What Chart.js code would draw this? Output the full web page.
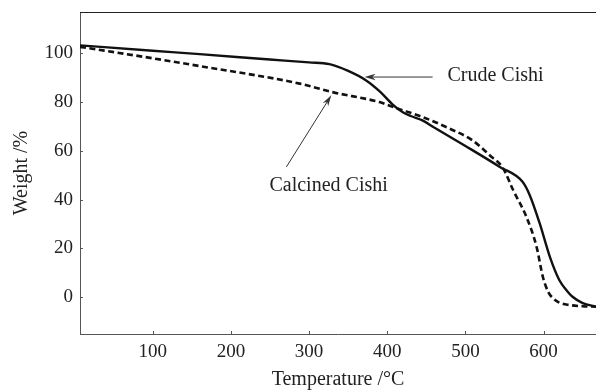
<!DOCTYPE html>
<html>
<head>
<meta charset="utf-8">
<script src="https://cdn.jsdelivr.net/npm/chart.js@4.4.1/dist/chart.umd.min.js"></script>
<style>
    html, body { margin: 0; padding: 0; background: #fff; }
    #wrap { width: 596px; height: 391px; }
</style>
</head>
<body>
<div id="wrap"><canvas id="tga-chart" width="596" height="391"></canvas></div>
<script>
// temperature (°C) / weight (%)
let crudeTemp = [7, 100, 160, 250, 300, 326, 350, 373, 390, 407, 420, 430, 445, 460, 500, 544, 573, 582, 595, 608, 620, 630, 637, 650, 667];
let crudeWeight = [103.3, 101.1, 99.7, 97.5, 96.3, 95.6, 92.8, 88.9, 84.5, 79.0, 75.8, 74.3, 72.5, 69.6, 62.0, 53.4, 47.3, 42.0, 30.2, 16.5, 7.0, 2.5, 0.1, -2.5, -4.0];

let calcinedTemp = [7, 100, 160, 288, 330, 390, 411, 445, 480, 509, 531, 548, 561, 578, 591, 599, 606, 612, 620, 633, 650, 667];
let calcinedWeight = [102.7, 98.0, 94.8, 87.6, 84.1, 80.0, 77.6, 73.9, 69.1, 64.3, 58.2, 52.9, 43.9, 32.9, 20.6, 8.3, 2.0, -0.5, -2.3, -3.3, -3.8, -4.0];

let xTicks = [100, 200, 300, 400, 500, 600];
let yTicks = [0, 20, 40, 60, 80, 100];

let serif = '"Liberation Serif", "Times New Roman", serif';

function toPoints($xs, $ys) {
    return $xs.map(function($x, $i) {
        return {x: $x, y: $ys[$i]};
    });
}

function drawArrow(ctx, x1, y1, x2, y2) {
    let angle = Math.atan2(y2 - y1, x2 - x1);
    let len = 11, half = 3.2;
    ctx.beginPath();
    ctx.moveTo(x1, y1);
    ctx.lineTo(x2 - Math.cos(angle) * len * 0.7, y2 - Math.sin(angle) * len * 0.7);
    ctx.stroke();
    ctx.beginPath();
    ctx.moveTo(x2, y2);
    ctx.lineTo(x2 - Math.cos(angle) * len - Math.sin(angle) * half, y2 - Math.sin(angle) * len + Math.cos(angle) * half);
    ctx.lineTo(x2 - Math.cos(angle) * len * 0.7, y2 - Math.sin(angle) * len * 0.7);
    ctx.lineTo(x2 - Math.cos(angle) * len + Math.sin(angle) * half, y2 - Math.sin(angle) * len - Math.cos(angle) * half);
    ctx.closePath();
    ctx.fill();
}

// inward ticks, top frame line and the two labelled arrows
let decorations = {
    id: 'decorations',
    afterDatasetsDraw: function(chart) {
        let ctx = chart.ctx;
        let area = chart.chartArea;
        let x = chart.scales.x;
        let y = chart.scales.y;

        ctx.save();
        ctx.strokeStyle = '#555';
        ctx.lineWidth = 1;
        xTicks.forEach(function($v) {
            let px = Math.round(x.getPixelForValue($v)) + 0.5;
            ctx.beginPath();
            ctx.moveTo(px, area.bottom);
            ctx.lineTo(px, area.bottom - 3);
            ctx.stroke();
        });
        yTicks.forEach(function($v) {
            let py = Math.round(y.getPixelForValue($v)) + 0.5;
            ctx.beginPath();
            ctx.moveTo(area.left, py);
            ctx.lineTo(area.left + 3, py);
            ctx.stroke();
        });

        ctx.strokeStyle = '#222';
        ctx.beginPath();
        ctx.moveTo(area.left, area.top + 0.5);
        ctx.lineTo(area.right, area.top + 0.5);
        ctx.stroke();

        ctx.strokeStyle = '#333';
        ctx.fillStyle = '#333';
        ctx.lineWidth = 1;
        drawArrow(ctx, x.getPixelForValue(458), y.getPixelForValue(90.3), x.getPixelForValue(371), y.getPixelForValue(90.3));
        drawArrow(ctx, x.getPixelForValue(271), y.getPixelForValue(53.4), x.getPixelForValue(328.4), y.getPixelForValue(82.8));

        ctx.fillStyle = '#222';
        ctx.font = '20px ' + serif;
        ctx.textBaseline = 'middle';
        ctx.textAlign = 'left';
        ctx.fillText('Crude Cishi', x.getPixelForValue(477), y.getPixelForValue(90.8));
        ctx.textAlign = 'center';
        ctx.fillText('Calcined Cishi', x.getPixelForValue(325), y.getPixelForValue(45.6));
        ctx.restore();
    }
};

function getChartConfig() {
    return {
        type: 'line',
        data: {
            datasets: [
                {
                    label: 'Crude Cishi',
                    data: toPoints(crudeTemp, crudeWeight),
                    borderColor: '#111',
                    borderWidth: 2.4,
                    pointRadius: 0,
                    cubicInterpolationMode: 'monotone'
                },
                {
                    label: 'Calcined Cishi',
                    data: toPoints(calcinedTemp, calcinedWeight),
                    borderColor: '#111',
                    borderWidth: 2.6,
                    borderDash: [6, 3.5],
                    pointRadius: 0,
                    cubicInterpolationMode: 'monotone'
                }
            ]
        },
        options: {
            responsive: false,
            animation: false,
            layout: {
                padding: {left: 0, top: 12, right: 0, bottom: 0}
            },
            scales: {
                x: {
                    type: 'linear',
                    min: 7,
                    max: 667,
                    afterBuildTicks: function(scale) {
                        scale.ticks = xTicks.map(function($v) { return {value: $v}; });
                    },
                    afterFit: function(scale) {
                        scale.height = 57;
                        scale.paddingLeft = 0;
                        scale.paddingRight = 0;
                    },
                    grid: {display: false, drawTicks: false},
                    border: {color: '#555', width: 1},
                    ticks: {
                        color: '#222',
                        padding: 7,
                        maxRotation: 0,
                        font: {family: serif, size: 19}
                    },
                    title: {
                        display: true,
                        text: 'Temperature /°C',
                        color: '#222',
                        padding: {top: 0, bottom: 1},
                        font: {family: serif, size: 20, lineHeight: 1}
                    }
                },
                y: {
                    type: 'linear',
                    min: -15.2,
                    max: 117,
                    afterBuildTicks: function(scale) {
                        scale.ticks = yTicks.map(function($v) { return {value: $v}; });
                    },
                    afterFit: function(scale) {
                        scale.width = 80;
                        scale.paddingTop = 0;
                        scale.paddingBottom = 0;
                    },
                    grid: {display: false, drawTicks: false},
                    border: {color: '#555', width: 1},
                    ticks: {
                        color: '#222',
                        padding: 7,
                        font: {family: serif, size: 19}
                    },
                    title: {
                        display: true,
                        text: 'Weight /%',
                        color: '#222',
                        padding: {top: 12, bottom: 0},
                        font: {family: serif, size: 20, lineHeight: 1}
                    }
                }
            },
            plugins: {
                legend: {display: false},
                tooltip: {enabled: false}
            }
        },
        plugins: [decorations]
    };
}

new Chart(document.getElementById('tga-chart'), getChartConfig());
</script>
</body>
</html>
